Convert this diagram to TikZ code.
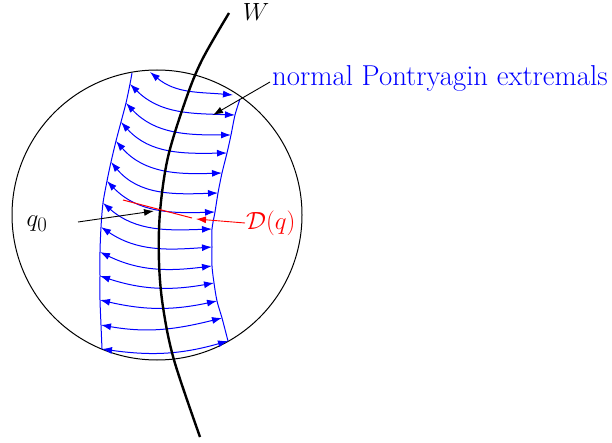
\documentclass[tikz,border=0pt]{standalone}
\usetikzlibrary{arrows.meta}
\begin{document}
\begin{tikzpicture}[x=1pt,y=1pt,
  bigtext/.style={font=\fontsize{28.8}{33}\selectfont, inner sep=1pt},
  extremal/.style={blue, line width=1pt, {Latex[length=10pt,width=7pt]}-{Latex[length=10pt,width=7pt]}},
  boundary/.style={blue, line width=1pt},
  pointer/.style={line width=0.9pt, -{Latex[length=10pt,width=7pt]}}]
\useasboundingbox (0,0) rectangle (612,442);
% ball
\draw[line width=1pt] (157,227) circle[radius=145];
% strip boundaries
\draw[boundary] plot[smooth] coordinates {(132,369) (130,358) (126,339) (121,320) (116,301) (111,280) (107,261) (103,239) (101,215) (100,190) (100,166) (100,142) (101,117) (102,93)};
\draw[boundary] plot[smooth] coordinates {(240,343) (235,327) (231,307) (227,289) (222,269) (218,249) (215,230) (212,213) (212,195) (212,176) (214,159) (217,141) (222,124) (228,101)};
% extremals
\foreach \lx/\ly/\rx/\ry/\o/\i in {
150/370/233/347/-40/175,
130/358/235/327/-45/178,
126/339/231/307/-47/180,
121/320/227/289/-48/181,
116/301/222/269/-49/182,
111/280/218/249/-50/182,
107/261/215/230/-46/182,
103/239/212/213/-41/182,
101/215/212/195/-34/184,
100/190/212/176/-26/187,
100/166/214/159/-18/190,
100/142/217/141/-13/192,
101/117/222/124/-10/194,
102/93/228/101/-8/196}
  \draw[extremal] (\lx,\ly) to[out=\o,in=\i] (\rx,\ry);
% W
\draw[line width=2.4pt] plot[smooth, tension=0.55] coordinates {(229,429) (202,382) (186,343) (168,285) (160,230) (159,180) (163,135) (174,82) (200,5)};
\node[bigtext] (W) at (256,430) {$W$};
% red segment D(q)
\coordinate (da) at (123,242);
\coordinate (db) at (192,224);
\draw[red, line width=1pt] (da) -- (db);
\node[bigtext, red, anchor=west] (dq) at (245,219) {$\mathcal{D}(q)$};
\coordinate (dtip) at (196,223);
\draw[pointer, red] (dq.west) -- (dtip);
% q0
\node[bigtext] (q0) at (37,218) {$q_0$};
\coordinate (qstart) at (78,220);
\coordinate (qtip) at (154,231);
\draw[pointer] (qstart) -- (qtip);
% label for extremals
\node[bigtext, blue, anchor=base west] (npe) at (271,356) {normal Pontryagin extremals};
\coordinate (nstart) at (270,360);
\coordinate (ntip) at (213,327);
\draw[pointer] (nstart) -- (ntip);
\end{tikzpicture}
\end{document}
